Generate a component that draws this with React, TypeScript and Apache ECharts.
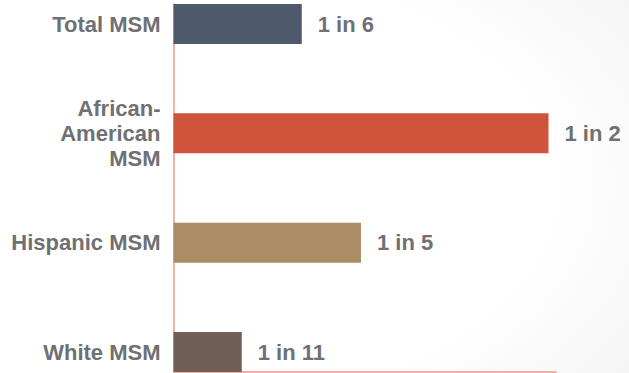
import React, { useEffect, useRef } from "react";
import * as echarts from "echarts";

const categories = ["Total MSM", "African-\nAmerican\nMSM", "Hispanic MSM", "White MSM"];
const values = [17.1, 50, 25, 9.1];
const valueLabels = ["1 in 6", "1 in 2", "1 in 5", "1 in 11"];
const barColors = ["#4e5a6b", "#d0533b", "#aa8c65", "#6f5f54"];

const TEXT = "#6f7073";
const AXIS = "#e89a8c";
const FONT = "'Liberation Sans', Arial, sans-serif";

export default function App() {
  const ref = useRef<HTMLDivElement>(null);
  useEffect(() => {
    document.body.style.margin = "0";
    const chart = echarts.init(ref.current!, null, { renderer: "svg" });
    chart.setOption({
      animation: false,
      graphic: [
        {
          type: "rect",
          z: -10,
          silent: true,
          shape: { x: 0, y: 0, width: 629, height: 373 },
          style: {
            fill: new echarts.graphic.RadialGradient(0.3, 0.5, 1.28, [
              { offset: 0, color: "#ffffff" },
              { offset: 0.45, color: "#ffffff" },
              { offset: 1, color: "#e6e6e6" },
            ]),
          },
        },
      ],
      grid: [
        { left: 173.5, right: 73, top: 24, bottom: 21, containLabel: false },
        { left: 173.5, right: 73, top: 4, bottom: 1.5, containLabel: false },
      ],
      xAxis: [
        { gridIndex: 0, type: "value", min: 0, max: 51, show: false },
        {
          gridIndex: 1,
          type: "value",
          min: 0,
          max: 1,
          axisLine: { show: true, lineStyle: { color: AXIS, width: 1.5 } },
          axisTick: { show: false },
          axisLabel: { show: false },
          splitLine: { show: false },
        },
      ],
      yAxis: [
        {
          gridIndex: 0,
          type: "category",
          data: categories,
          inverse: true,
          boundaryGap: false,
          axisLine: { show: false },
          axisTick: { show: false },
          splitLine: { show: false },
          axisLabel: {
            margin: 13,
            fontSize: 22,
            fontWeight: "bold",
            fontFamily: FONT,
            color: TEXT,
            lineHeight: 25,
            align: "right",
          },
        },
        {
          gridIndex: 1,
          type: "value",
          min: 0,
          max: 1,
          axisLine: { show: true, lineStyle: { color: AXIS, width: 1.5 } },
          axisTick: { show: false },
          axisLabel: { show: false },
          splitLine: { show: false },
        },
      ],
      series: [
        {
          type: "bar",
          xAxisIndex: 0,
          yAxisIndex: 0,
          barWidth: 40,
          z: 3,
          data: values.map((v, i) => ({ value: v, itemStyle: { color: barColors[i] } })),
          label: {
            show: true,
            position: "right",
            distance: 16,
            fontSize: 22,
            fontWeight: "bold",
            fontFamily: FONT,
            color: TEXT,
            formatter: (p: any) => valueLabels[p.dataIndex],
          },
        },
      ],
    });
    return () => chart.dispose();
  }, []);
  return <div ref={ref} style={{ width: 629, height: 373 }} />;
}
